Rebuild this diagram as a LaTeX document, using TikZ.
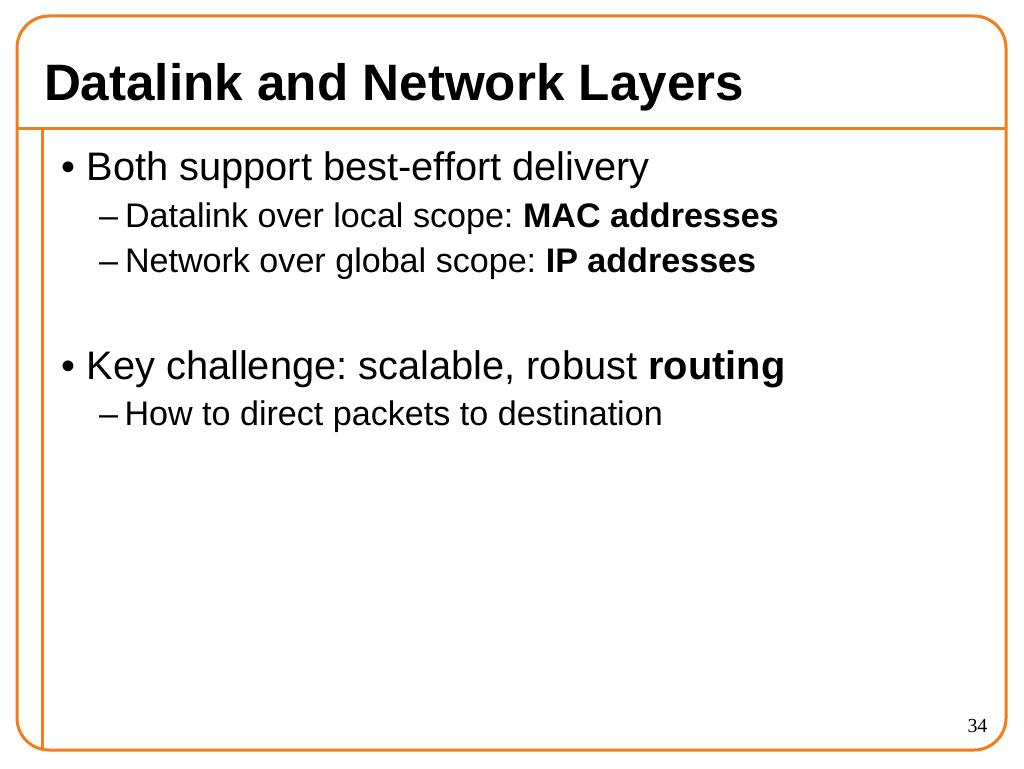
\documentclass[tikz,border=0pt]{standalone}
\usepackage{fontspec}
\setmainfont{Liberation Sans}
\newfontfamily\pagefont{Liberation Serif}
\definecolor{frameorange}{RGB}{238,127,28}
\frenchspacing
\tikzset{
  frameline/.style={draw=frameorange, line width=3pt},
  txt/.style={anchor=base west, inner sep=0pt, outer sep=0pt, text=black},
  titletxt/.style={txt, font=\fontsize{51.2}{60}\selectfont\bfseries},
  lvlone/.style={txt, font=\fontsize{39.8}{46}\selectfont},
  lvltwo/.style={txt, font=\fontsize{34.1}{40}\selectfont},
  pagenum/.style={txt, font=\fontsize{19.9}{22}\selectfont\pagefont}
}
\begin{document}
\begin{tikzpicture}[x=1pt, y=-1pt]
\useasboundingbox (0,0) rectangle (1024,768);
\fill[white] (0,0) rectangle (1024,768);
% frame
\draw[frameline, rounded corners=32pt] (17,16) rectangle (1006,750);
\coordinate (hl) at (17,128);
\coordinate (hr) at (1006,128);
\coordinate (vt) at (42,128);
\coordinate (vb) at (42,750);
\draw[frameline] (hl) -- (hr);
\draw[frameline] (vt) -- (vb);
% title
\node[titletxt] (title) at (44,100) {Datalink and Network Layers};
% bullets
\node[lvlone] (b1dot) at (61,180) {•};
\node[lvlone] (b1) at (86.5,180) {Both support best-effort delivery};
\node[lvltwo] (s1dash) at (99,227) {–};
\node[lvltwo] (s1) at (125,227) {Datalink over local scope: \textbf{MAC addresses}};
\node[lvltwo] (s2dash) at (99,272) {–};
\node[lvltwo] (s2) at (125,272) {Network over global scope: \textbf{IP addresses}};
\node[lvlone] (b2dot) at (61,379) {•};
\node[lvlone] (b2) at (86.5,379) {Key challenge: scalable, robust \textbf{routing}};
\node[lvltwo] (s3dash) at (99,425) {–};
\node[lvltwo] (s3) at (124.5,425) {How to direct packets to destination};
% page number
\node[pagenum] (pg) at (967.5,732) {34};
\end{tikzpicture}
\end{document}
